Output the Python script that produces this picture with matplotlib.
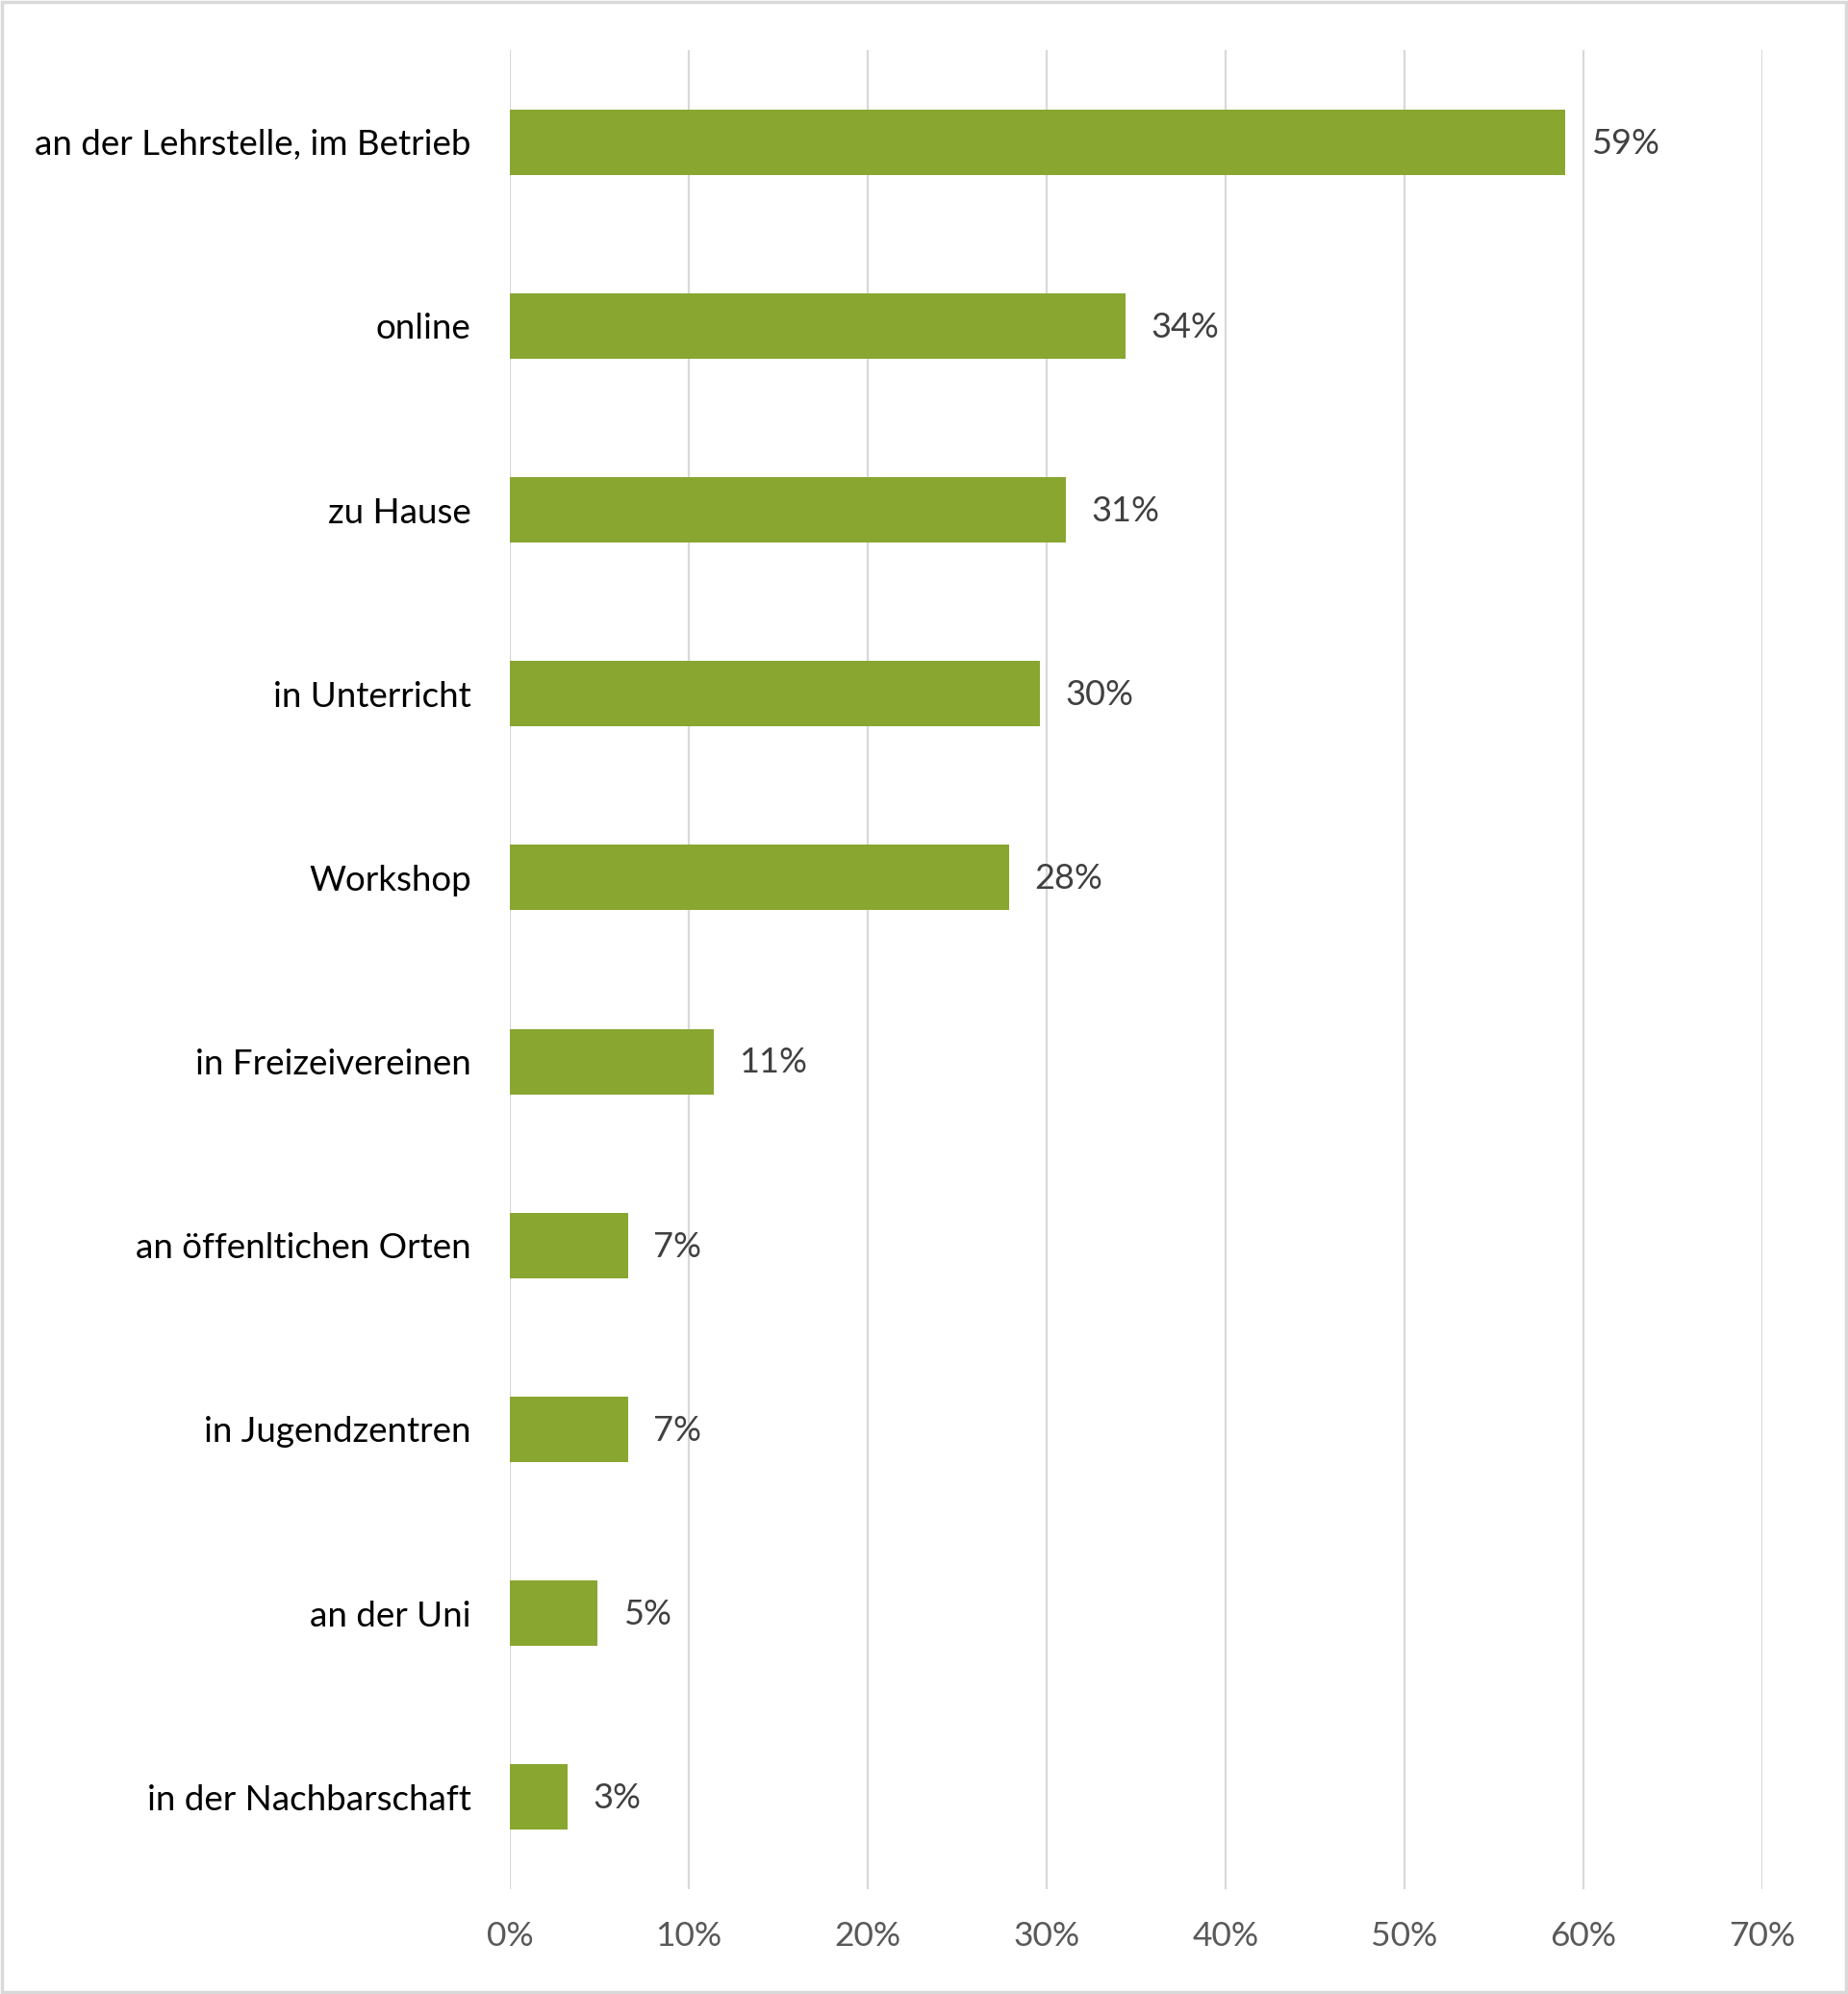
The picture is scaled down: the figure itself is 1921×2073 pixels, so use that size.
import matplotlib
matplotlib.use("Agg")
import matplotlib.pyplot as plt
from matplotlib.patches import Rectangle
import numpy as np

categories = ['an der Lehrstelle, im Betrieb', 'online', 'zu Hause', 'in Unterricht',
              'Workshop', 'in Freizeivereinen', 'an öffenltichen Orten', 'in Jugendzentren',
              'an der Uni', 'in der Nachbarschaft']
values = [59.0, 34.4, 31.1, 29.6, 27.9, 11.4, 6.6, 6.6, 4.9, 3.2]
xticks = [0, 10, 20, 30, 40, 50, 60, 70]

plt.rcParams['font.family'] = ['Lato', 'DejaVu Sans']

fig = plt.figure(figsize=(19.21, 20.73), dpi=100)
ax = fig.add_axes([0.2759, 0.0526, 0.9537 - 0.2759, 0.9749 - 0.0526])

y = np.arange(len(categories))
ax.barh(y, values, height=0.356, color='#89A631', zorder=3)
for yi, v in zip(y, values):
    ax.annotate(f'{v:.0f}%', (v, yi), xytext=(19, -1), textcoords='offset points',
                va='center', ha='left', fontsize=26, color='#404040')

ax.set_xlim(0, 70)
ax.set_ylim(len(categories) - 0.5, -0.5)
ax.set_xticks(xticks)
ax.set_xticklabels([f'{t}%' for t in xticks], fontsize=25.5, color='#595959')
ax.set_yticks(y)
ax.set_yticklabels(categories, fontsize=26.5, color='black')
ax.tick_params(axis='both', length=0)
ax.tick_params(axis='x', pad=24)
ax.tick_params(axis='y', pad=29)
ax.grid(axis='x', color='#d9d9d9', linewidth=1.6, zorder=0)
for s in ax.spines.values():
    s.set_visible(False)

fig.patches.append(Rectangle((0.001, 0.001), 0.998, 0.998, transform=fig.transFigure,
                             fill=False, edgecolor='#d9d9d9', linewidth=2.5))

fig.savefig('out.png', dpi=100)
